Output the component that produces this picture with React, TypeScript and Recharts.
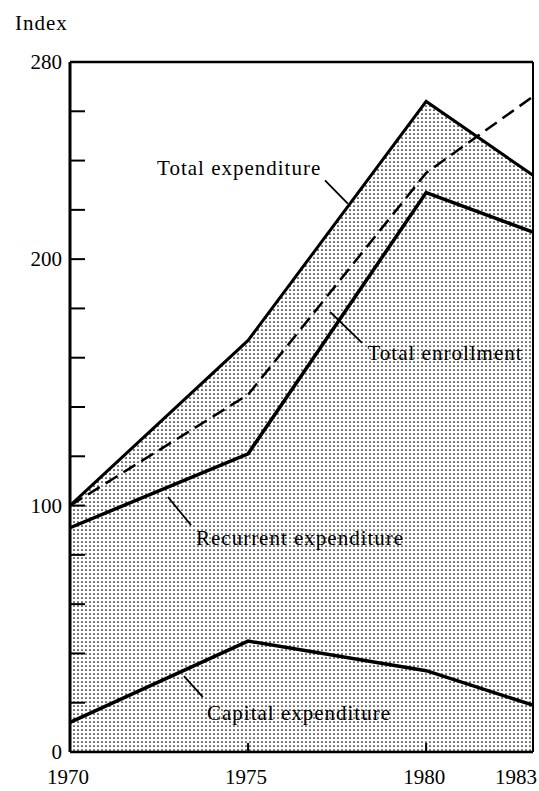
import React from 'react';
import { ComposedChart, XAxis, YAxis, Area, Line, ReferenceLine, ReferenceDot } from 'recharts';

const years = [1970, 1975, 1980, 1983];
const totalExpenditure = [100, 167, 264, 234];
const totalEnrollment = [100, 145, 235, 266];
const recurrentExpenditure = [91, 121, 227, 211];
const capitalExpenditure = [12, 45, 33, 19];
const yTicks = [0, 20, 40, 60, 80, 100, 120, 140, 160, 180, 200, 220, 240, 260, 280];
const yLabels = [0, 100, 200, 280];

const rows = years.map((year, i) => ({
    year,
    total: totalExpenditure[i],
    enrollment: totalEnrollment[i],
    recurrent: recurrentExpenditure[i],
    capital: capitalExpenditure[i],
}));

// annotation text and pointer lines, in data units
const notes = [
    { text: 'Total expenditure', x: 1974.75, y: 237, from: [1977.16, 232], to: [1977.8, 222.5] },
    { text: 'Total enrollment', x: 1980.53, y: 162, from: [1978.2, 166], to: [1977.3, 178.6] },
    { text: 'Recurrent expenditure', x: 1976.46, y: 87, from: [1973.4, 92], to: [1972.75, 103.5] },
    { text: 'Capital expenditure', x: 1976.43, y: 16, from: [1973.73, 22.3], to: [1973.2, 30.8] },
];

const FONT = '"Liberation Serif", "DejaVu Serif", serif';

const YTick = (props: any) => {
    const { x, y, payload } = props;
    const v = payload.value;
    return (
        <g>
            {v !== 0 && v !== 280 && (
                <line x1={x + 8} x2={x + 23} y1={y} y2={y} stroke="#000" strokeWidth={2} />
            )}
            {yLabels.includes(v) && (
                <text x={x} y={y} dy="0.35em" textAnchor="end" fontFamily={FONT} fontSize={21} fill="#000">
                    {v}
                </text>
            )}
        </g>
    );
};

const XTick = (props: any) => {
    const { x, y, payload } = props;
    const v = payload.value;
    const anchor = v === 1983 ? 'end' : 'middle';
    return (
        <g>
            {(v === 1975 || v === 1980) && (
                <line x1={x} x2={x} y1={y} y2={y - 9} stroke="#000" strokeWidth={2} />
            )}
            <text x={v === 1983 ? x + 4 : x - 2} y={y + 25} dy="0.35em" textAnchor={anchor} fontFamily={FONT} fontSize={21} fill="#000">
                {v}
            </text>
        </g>
    );
};

export default function App() {
    return (
        <div style={{ position: 'absolute', left: 0, top: 0, width: 539, height: 791, background: '#fff' }}>
            <div style={{ position: 'absolute', left: 15, top: 11, fontFamily: FONT, fontSize: 21, letterSpacing: 1, color: '#000' }}>
                Index
            </div>
            <ComposedChart
                width={539}
                height={791}
                data={rows}
                margin={{ top: 62, right: 6, bottom: 0, left: 0 }}
            >
                <defs>
                    <pattern id="dots" width="4" height="4" patternUnits="userSpaceOnUse">
                        <circle cx="2" cy="2" r="0.85" fill="#000" />
                    </pattern>
                </defs>
                <XAxis
                    dataKey="year"
                    type="number"
                    domain={[1970, 1983]}
                    ticks={years}
                    interval={0}
                    height={39}
                    tickSize={0}
                    tickMargin={0}
                    tickLine={false}
                    tick={<XTick />}
                    axisLine={{ stroke: '#000', strokeWidth: 2.5 }}
                />
                <YAxis
                    type="number"
                    domain={[0, 280]}
                    ticks={yTicks}
                    interval={0}
                    width={70}
                    tickSize={8}
                    tickMargin={0}
                    tickLine={false}
                    tick={<YTick />}
                    axisLine={{ stroke: '#000', strokeWidth: 3 }}
                />
                <Area
                    type="linear"
                    dataKey="total"
                    stroke="#000"
                    strokeWidth={3}
                    fill="url(#dots)"
                    fillOpacity={1}
                    isAnimationActive={false}
                    dot={false}
                    activeDot={false}
                />
                <Line type="linear" dataKey="recurrent" stroke="#000" strokeWidth={3.5} dot={false} activeDot={false} isAnimationActive={false} />
                <Line type="linear" dataKey="capital" stroke="#000" strokeWidth={3.5} dot={false} activeDot={false} isAnimationActive={false} />
                <Line type="linear" dataKey="enrollment" stroke="#000" strokeWidth={2.5} strokeDasharray="14 7" dot={false} activeDot={false} isAnimationActive={false} />
                <ReferenceLine y={280} stroke="#000" strokeWidth={2.5} />
                <ReferenceLine x={1983} stroke="#000" strokeWidth={2} />
                {notes.map((n) => (
                    <ReferenceLine
                        key={n.text + '-ptr'}
                        segment={[{ x: n.from[0], y: n.from[1] }, { x: n.to[0], y: n.to[1] }]}
                        stroke="#000"
                        strokeWidth={1.8}
                    />
                ))}
                {notes.map((n) => (
                    <ReferenceDot
                        key={n.text}
                        x={n.x}
                        y={n.y}
                        r={0}
                        fill="none"
                        stroke="none"
                        label={{ value: n.text, position: 'center', fill: '#000', fontSize: 21, fontFamily: FONT, letterSpacing: 1 }}
                    />
                ))}
            </ComposedChart>
        </div>
    );
}
